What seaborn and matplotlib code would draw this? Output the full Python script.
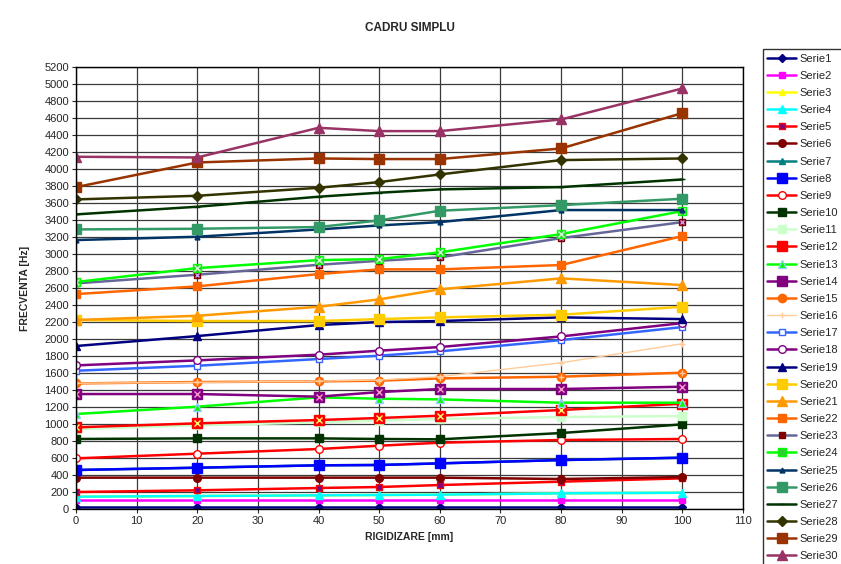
import numpy as np
import pandas as pd
import matplotlib
matplotlib.use("Agg")
import matplotlib.pyplot as plt
import seaborn as sns

sns.set_style("white")
plt.rcParams['font.family'] = ['Liberation Sans', 'DejaVu Sans']

# rigidizare [mm]
x = [0, 20, 40, 50, 60, 80, 100]

# frecventa [Hz] pentru fiecare serie
serie1 = [18, 18, 18, 18, 18, 18, 18]
serie2 = [106, 106, 106, 106, 106, 106, 106]
serie3 = [145, 153, 161, 165, 169, 184, 192]
serie4 = [145, 153, 161, 165, 169, 184, 192]
serie5 = [200, 220, 247, 259, 282, 322, 361]
serie6 = [369, 369, 369, 369, 369, 353, 376]
serie7 = [459, 486, 514, 518, 537, 576, 604]
serie8 = [459, 486, 514, 518, 537, 576, 604]
serie9 = [596, 651, 706, 745, 780, 812, 824]
serie10 = [824, 831, 831, 824, 820, 894, 996]
serie11 = [940, 985, 1020, 1040, 1060, 1082, 1094]
serie12 = [961, 1008, 1047, 1071, 1098, 1165, 1239]
serie13 = [1118, 1204, 1314, 1298, 1290, 1251, 1251]
serie14 = [1353, 1353, 1322, 1376, 1412, 1412, 1439]
serie15 = [1478, 1494, 1502, 1510, 1537, 1557, 1604]
serie16 = [1480, 1490, 1505, 1518, 1557, 1721, 1945]
serie17 = [1627, 1686, 1765, 1804, 1855, 1988, 2141]
serie18 = [1690, 1749, 1816, 1863, 1906, 2031, 2188]
serie19 = [1918, 2035, 2165, 2200, 2212, 2255, 2235]
serie20 = [2224, 2212, 2212, 2235, 2255, 2286, 2380]
serie21 = [2224, 2274, 2380, 2467, 2585, 2714, 2635]
serie22 = [2529, 2620, 2765, 2820, 2820, 2871, 3212]
serie23 = [2655, 2757, 2874, 2921, 2961, 3188, 3376]
serie24 = [2671, 2835, 2929, 2941, 3020, 3235, 3506]
serie25 = [3165, 3204, 3290, 3337, 3376, 3518, 3518]
serie26 = [3290, 3298, 3318, 3396, 3510, 3576, 3651]
serie27 = [3467, 3557, 3675, 3722, 3761, 3788, 3878]
serie28 = [3643, 3686, 3780, 3847, 3937, 4106, 4125]
serie29 = [3788, 4078, 4125, 4118, 4118, 4243, 4659]
serie30 = [4145, 4137, 4486, 4447, 4447, 4584, 4949]

series = [serie1, serie2, serie3, serie4, serie5, serie6, serie7, serie8, serie9, serie10,
          serie11, serie12, serie13, serie14, serie15, serie16, serie17, serie18, serie19, serie20,
          serie21, serie22, serie23, serie24, serie25, serie26, serie27, serie28, serie29, serie30]
names = ["Serie%d" % (i + 1) for i in range(30)]

# (culoare linie, marker, marime, fata marker, margine marker, grosime linie)
styles = [
    ("#000080", "D", 4, "#000080", "#000080", 1.8),
    ("#FF00FF", "s", 5, "#FF00FF", "#FF00FF", 1.8),
    ("#FFFF00", "^", 5, "#FFFF00", "#FFFF00", 1.8),
    ("#00FFFF", "^", 6, "#00FFFF", "#00FFFF", 1.8),
    ("#FF0000", "s", 4.5, "#800080", "#FF0000", 1.8),
    ("#800000", "o", 5.5, "#800000", "#800000", 1.8),
    ("#008080", "^", 5, "#008080", "#008080", 1.8),
    ("#0000FF", "s", 7.5, "#0000FF", "#0000FF", 1.8),
    ("#FF0000", "o", 5.5, "white", "#FF0000", 1.8),
    ("#003300", "s", 6, "#003300", "#003300", 1.8),
    ("#CCFFCC", "s", 6, "#CCFFCC", "#CCFFCC", 1.8),
    ("#FF0000", "s", 7, "#FF0000", "#FF0000", 1.8),
    ("#00FF00", "^", 6, "#00FF00", "#99CCFF", 1.8),
    ("#800080", "s", 7, "#800080", "#800080", 1.8),
    ("#FF6600", "o", 6, "#FF6600", "#FF6600", 1.8),
    ("#FFCC99", "+", 5, "#FFCC99", "#FFCC99", 1.0),
    ("#3366FF", "s", 5, "white", "#3366FF", 1.8),
    ("#800080", "o", 5.5, "white", "#800080", 1.8),
    ("#000080", "^", 6, "#000080", "#000080", 1.8),
    ("#FFCC00", "s", 7, "#FFCC00", "#FFCC00", 1.8),
    ("#FF9900", "^", 7, "#FF9900", "#FF9900", 1.8),
    ("#FF6600", "s", 5.5, "#FF6600", "#FF6600", 1.8),
    ("#666699", "s", 4.5, "#800000", "#800000", 1.8),
    ("#00FF00", "s", 5.5, "#33CC33", "#00FF00", 1.8),
    ("#003366", "^", 3.5, "#003366", "#003366", 1.8),
    ("#339966", "s", 7, "#339966", "#339966", 1.8),
    ("#003300", "_", 4, "#003300", "#003300", 1.8),
    ("#333300", "D", 5.5, "#333300", "#333300", 1.8),
    ("#993300", "s", 7, "#993300", "#993300", 1.8),
    ("#993366", "^", 7, "#993366", "#993366", 1.8),
]
# cruciulite peste unele markere
overlay = {11: ("x", "#FFFF66"), 13: ("x", "#FF99CC"), 4: ("x", "#800080"),
           22: ("x", "#CC99FF"), 23: ("x", "#CCFFCC"), 14: ("+", "#FFCC99")}

fig = plt.figure(figsize=(8.41, 5.64), dpi=100)
ax = fig.add_axes([0.0904, 0.0975, 0.7931, 0.7835])

for i, (vals, name) in enumerate(zip(series, names)):
    col, mk, ms, mfc, mec, lw = styles[i]
    df = pd.DataFrame({"x": x, "y": vals})
    sns.lineplot(data=df, x="x", y="y", ax=ax, color=col, lw=lw, marker=mk,
                 markersize=ms, markerfacecolor=mfc, markeredgecolor=mec,
                 markeredgewidth=1.0, label=name)
    if i in overlay:
        om, oc = overlay[i]
        ax.plot(x, vals, ls="none", marker=om, ms=ms * 0.7, mec=oc, mew=1.0)

ax.set_xlim(0, 110)
ax.set_ylim(0, 5200)
ax.set_xticks(np.arange(0, 111, 10))
ax.set_yticks(np.arange(0, 5201, 200))
ax.tick_params(labelsize=8, length=3, direction="out", left=True, bottom=True, pad=2)
ax.grid(True, color="#3a3a3a", lw=0.9)
for s in ax.spines.values():
    s.set_color("black")
    s.set_linewidth(1.0)

ax.set_xlabel("RIGIDIZARE [mm]", fontsize=7.5, fontweight="bold", labelpad=4)
ax.set_ylabel("FRECVENTA [Hz]", fontsize=7.5, fontweight="bold", labelpad=10)
fig.text(0.488, 0.950, "CADRU SIMPLU", fontsize=8.5, fontweight="bold", ha="center", va="center")

handles, labels = ax.get_legend_handles_labels()
ax.get_legend().remove()
leg = fig.legend(handles, labels, loc="upper left", bbox_to_anchor=(0.907, 0.913),
                 fontsize=8, frameon=True, fancybox=False, edgecolor="black",
                 handlelength=2.6, handletextpad=0.3, labelspacing=0.645,
                 borderpad=0.4, borderaxespad=0)
leg.get_frame().set_linewidth(1.0)

fig.savefig("out.png", dpi=100)
